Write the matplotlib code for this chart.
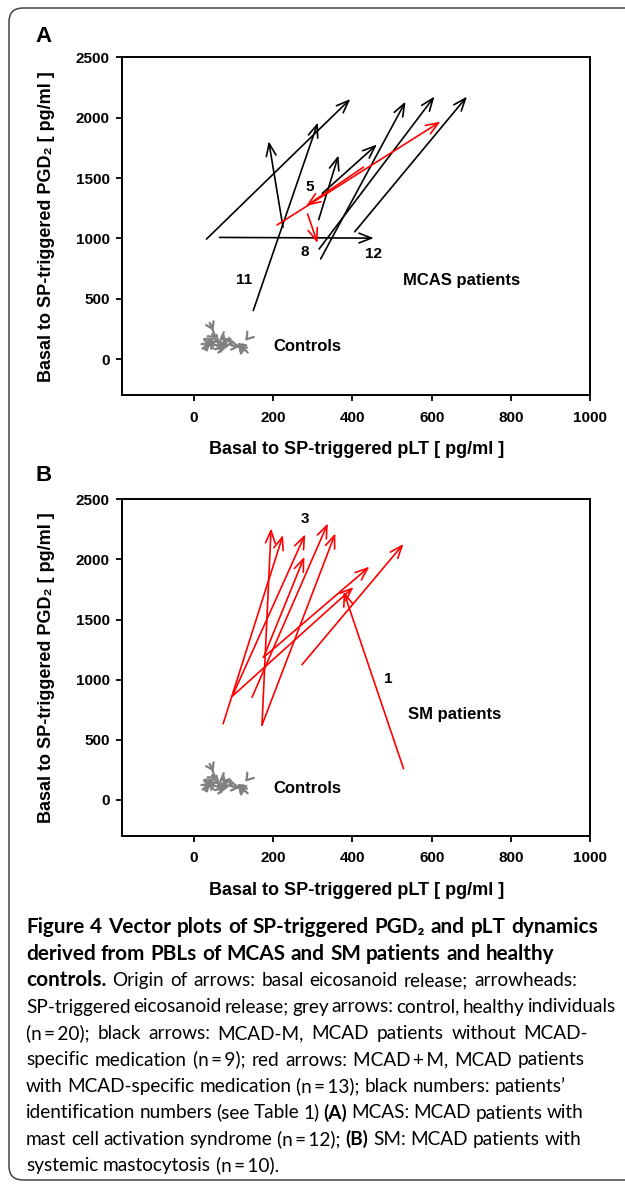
import matplotlib
matplotlib.use('Agg')
import matplotlib.pyplot as plt
from matplotlib.patches import FancyArrowPatch, FancyBboxPatch, ArrowStyle
from matplotlib.transforms import IdentityTransform
from matplotlib import font_manager
import numpy as np

W, H, DPI = 625, 1184, 100

# ---------------- data ----------------
# Panel A: MCAS patients, black arrows (without MCAD-specific medication)
mcas_black_x0 = [32, 65, 150, 225, 315, 324, 320, 316, 406]
mcas_black_y0 = [994, 1008, 402, 1092, 1155, 1372, 830, 912, 1055]
mcas_black_x1 = [395, 454, 313, 189, 365, 462, 534, 607, 689]
mcas_black_y1 = [2155, 1002, 1960, 1805, 1688, 1778, 2133, 2175, 2175]
# Panel A: red arrows (with medication)
mcas_red_x0 = [210, 428, 287]
mcas_red_y0 = [1111, 1590, 1202]
mcas_red_x1 = [622, 283, 312]
mcas_red_y1 = [1967, 1268, 962]
# Panel B: SM patients, red arrows
sm_red_x0 = [74, 172, 172, 147, 97, 97, 176, 176, 273, 529]
sm_red_y0 = [633, 622, 622, 854, 862, 862, 1186, 1186, 1125, 260]
sm_red_x1 = [225, 195, 357, 338, 281, 403, 443, 279, 529, 378]
sm_red_y1 = [2203, 2259, 2217, 2300, 2209, 1770, 1940, 2023, 2129, 1733]
# Controls (grey arrows), same in both panels
ctrl_x0 = [40, 22, 28, 50, 52, 66, 38, 72, 82, 24, 60, 136, 126, 134, 96, 46, 34, 76, 90, 118]
ctrl_y0 = [300, 85, 95, 175, 118, 150, 112, 102, 165, 125, 88, 55, 72, 168, 112, 205, 142, 182, 132, 95]
ctrl_x1 = [50, 42, 56, 66, 76, 86, 36, 62, 74, 46, 82, 110, 112, 130, 116, 58, 50, 64, 100, 128]
ctrl_y1 = [236, 142, 150, 130, 96, 92, 150, 136, 120, 118, 92, 135, 118, 152, 102, 176, 176, 156, 108, 132]

# patient id labels
mcas_ids = ['5', '8', '12', '11']
mcas_id_x = [292, 281, 454, 128]
mcas_id_y = [1425, 883, 869, 652]
sm_ids = ['3', '1']
sm_id_x = [280, 490]
sm_id_y = [2333, 1007]

x_ticks = [0, 200, 400, 600, 800, 1000]
y_ticks = [0, 500, 1000, 1500, 2000, 2500]
x_label = 'Basal to SP-triggered pLT [ pg/ml ]'
y_label = 'Basal to SP-triggered PGD\u2082 [ pg/ml ]'

plt.rcParams['font.family'] = ['Liberation Sans', 'DejaVu Sans']

fig = plt.figure(figsize=(W / DPI, H / DPI), dpi=DPI)
fig.patch.set_facecolor('white')

# outer rounded frame
frame = FancyBboxPatch((9, 4), 700, 1172, boxstyle='round,pad=0,rounding_size=14',
                       transform=IdentityTransform(), fill=False, ec='#444444', lw=1.1)
fig.add_artist(frame)


def make_axes(left, top, right, bottom):
    ax = fig.add_axes([left / W, 1 - bottom / H, (right - left) / W, (bottom - top) / H])
    ax.set_xlim(-180, 1000)
    ax.set_ylim(-300, 2500)
    ax.set_xticks(x_ticks)
    ax.set_yticks(y_ticks)
    for s in ax.spines.values():
        s.set_linewidth(1.4)
    ax.tick_params(direction='out', length=4, width=1.3, labelsize=11)
    ax.tick_params(axis='x', pad=7)
    ax.tick_params(axis='y', pad=5)
    for lab in ax.get_xticklabels() + ax.get_yticklabels():
        lab.set_fontweight('bold')
    ax.set_xlabel(x_label, fontsize=13, fontweight='bold', va='center')
    ax.xaxis.set_label_coords(0.5, -54.5 / (bottom - top))
    ax.set_ylabel(y_label, fontsize=13, fontweight='bold', va='center')
    ax.yaxis.set_label_coords((47 - left) / (right - left), 0.5)
    return ax


def draw_arrows(ax, x0, y0, x1, y1, color, lw=1.2, hl=0.9, hw=0.35):
    for a, b, c, d in zip(x0, y0, x1, y1):
        ax.add_patch(FancyArrowPatch((a, b), (c, d),
                                     arrowstyle=ArrowStyle('->', head_length=hl, head_width=hw),
                                     mutation_scale=10, lw=lw, color=color,
                                     shrinkA=0, shrinkB=0, zorder=3))


axA = make_axes(122.4, 57.3, 590.3, 395.3)
axB = make_axes(122.4, 499.3, 590.3, 836.0)

# Panel A
draw_arrows(axA, ctrl_x0, ctrl_y0, ctrl_x1, ctrl_y1, '#808080', lw=1.6, hl=0.45, hw=0.3)
draw_arrows(axA, mcas_black_x0, mcas_black_y0, mcas_black_x1, mcas_black_y1, 'black')
draw_arrows(axA, mcas_red_x0, mcas_red_y0, mcas_red_x1, mcas_red_y1, '#ff0000')
for t, x, y in zip(mcas_ids, mcas_id_x, mcas_id_y):
    axA.text(x, y, t, fontsize=11, fontweight='bold', ha='center', va='center')
axA.text(676, 647, 'MCAS patients', fontsize=12, fontweight='bold', ha='center', va='center')
axA.text(286, 105, 'Controls', fontsize=12, fontweight='bold', ha='center', va='center')

# Panel B
draw_arrows(axB, ctrl_x0, ctrl_y0, ctrl_x1, ctrl_y1, '#808080', lw=1.6, hl=0.45, hw=0.3)
draw_arrows(axB, sm_red_x0, sm_red_y0, sm_red_x1, sm_red_y1, '#ff0000')
for t, x, y in zip(sm_ids, sm_id_x, sm_id_y):
    axB.text(x, y, t, fontsize=11, fontweight='bold', ha='center', va='center')
axB.text(659, 709, 'SM patients', fontsize=12, fontweight='bold', ha='center', va='center')
axB.text(286, 95, 'Controls', fontsize=12, fontweight='bold', ha='center', va='center')

# panel letters
fig.text(44 / W, 1 - 36 / H, 'A', fontsize=16, fontweight='bold', ha='center', va='center')
fig.text(44 / W, 1 - 476 / H, 'B', fontsize=16, fontweight='bold', ha='center', va='center')

# ---------------- caption ----------------
rend = fig.canvas.get_renderer()
names = {f.name for f in font_manager.fontManager.ttflist}
cap_family = 'Liberation Sans Narrow' if 'Liberation Sans Narrow' in names else 'Lato'
CAPF = [cap_family, 'DejaVu Sans']
TS = '\u2009'

caption_lines = [
    ([('Figure 4 Vector plots of SP-triggered PGD\u2082 and pLT dynamics', 'T')], 933, 598),
    ([('derived from PBLs of MCAS and SM patients and healthy', 'T')], 959.5, 554),
    ([('controls.', 'T'), ('Origin of arrows: basal eicosanoid release; arrowheads:', 'R')], 986, 577),
    ([('SP-triggered eicosanoid release; grey arrows: control, healthy individuals', 'R')], 1012.5, 616),
    ([('(n' + TS + '=' + TS + '20); black arrows: MCAD-M, MCAD patients without MCAD-', 'R')], 1039, 588),
    ([('specific medication (n' + TS + '=' + TS + '9); red arrows: MCAD' + TS + '+' + TS + 'M, MCAD patients', 'R')], 1065.5, 585),
    ([('with MCAD-specific medication (n' + TS + '=' + TS + '13); black numbers: patients\u2019', 'R')], 1092, 566),
    ([('identification numbers (see Table 1)', 'R'), ('(A)', 'B'), ('MCAS: MCAD patients with', 'R')], 1118.5, 583),
    ([('mast cell activation syndrome (n' + TS + '=' + TS + '12);', 'R'), ('(B)', 'B'), ('SM: MCAD patients with', 'R')], 1145, 581),
    ([('systemic mastocytosis (n' + TS + '=' + TS + '10).', 'R')], 1171.5, None),
]
X0 = 26


def words_of(segs):
    out = []
    for txt, kind in segs:
        for w in txt.split(' '):
            if w:
                out.append((w, kind))
    return out


def wwidth(s, bold, size):
    t = fig.text(0, 0, s, fontsize=size, fontweight='bold' if bold else 'normal', family=CAPF)
    w = t.get_window_extent(renderer=rend).width
    t.remove()
    return w


def kind_style(kind, sizes):
    if kind == 'T':
        return True, sizes['T']
    if kind == 'B':
        return True, sizes['R']
    return False, sizes['R']


base = {'T': 12.0, 'R': 12.0}


def natural(segs, sizes):
    ws = words_of(segs)
    sp = wwidth('a a', False, sizes['R']) - wwidth('aa', False, sizes['R'])
    tot = 0
    for w, k in ws:
        b, s = kind_style(k, sizes)
        tot += wwidth(w, b, s)
    return tot + sp * (len(ws) - 1)


t_ratios = [(caption_lines[i][2] - X0) / natural(caption_lines[i][0], base) for i in (0, 1)]
r_ratios = [(caption_lines[i][2] - X0) / natural(caption_lines[i][0], base) for i in range(3, 9)]
sizes = {'T': min(15.0, base['T'] * float(np.min(t_ratios))),
         'R': min(14.0, base['R'] * float(np.median(r_ratios)))}
space_w = wwidth('a a', False, sizes['R']) - wwidth('aa', False, sizes['R'])

for segs, yb, right in caption_lines:
    ws = words_of(segs)
    widths = []
    for w, k in ws:
        b, s = kind_style(k, sizes)
        widths.append(wwidth(w, b, s))
    if right is None or len(ws) < 2:
        gap = space_w
    else:
        gap = (right - X0 - sum(widths)) / (len(ws) - 1)
        gap = max(gap, 0.45 * space_w)
    x = X0
    for (w, k), wd in zip(ws, widths):
        b, s = kind_style(k, sizes)
        fig.text(x / W, 1 - yb / H, w, fontsize=s, fontweight='bold' if b else 'normal',
                 family=CAPF, ha='left', va='baseline')
        x += wd + gap

fig.savefig('out.png', dpi=DPI, facecolor='white')
